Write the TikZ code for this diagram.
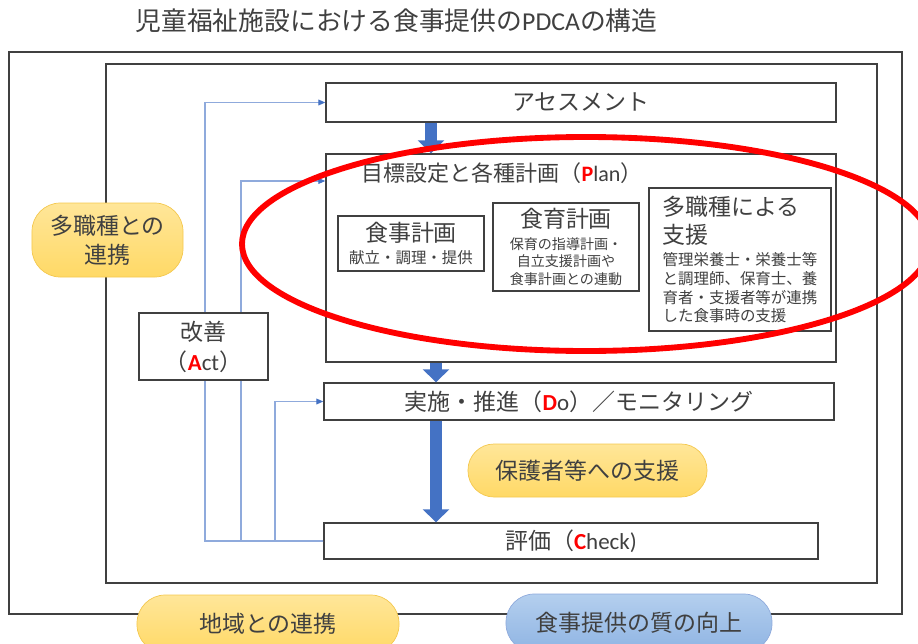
\documentclass[tikz,border=0pt]{standalone}
\usepackage{fontspec}
\setmainfont{Noto Sans CJK JP}
\newfontfamily\latfont{Carlito}
\usepackage{xcolor}
\usetikzlibrary{arrows.meta, positioning, shapes.geometric, calc}
\definecolor{framegray}{HTML}{404040}
\definecolor{pdcared}{HTML}{FF0000}
\definecolor{arrowblue}{HTML}{4472C4}
\definecolor{lineblue}{HTML}{8FAADC}
\definecolor{pillytop}{HTML}{FFE699}
\definecolor{pillybot}{HTML}{FFD966}
\definecolor{pillyline}{HTML}{F4C84F}
\definecolor{pillbtop}{HTML}{B4CFEE}
\definecolor{pillbbot}{HTML}{8FB4E3}
\definecolor{pillbline}{HTML}{8FAADC}
\newcommand{\latn}[1]{{\latfont #1}}
\newcommand{\ini}[1]{{\latfont\bfseries\color{pdcared}#1}}
\newcommand{\bigjp}{\fontsize{19.6}{24}\selectfont}

\begin{document}
\begin{tikzpicture}[x=0.03cm, y=-0.03cm,
    every node/.style={text=framegray},
    box/.style={draw=framegray, line width=1.2pt, fill=white, inner sep=0pt, align=center},
    pill/.style={draw=pillyline, line width=0.6pt, top color=pillytop, bottom color=pillybot, inner sep=0pt, align=center},
    bluepill/.style={pill, draw=pillbline, top color=pillbtop, bottom color=pillbbot},
    frame/.style={draw=framegray, line width=1.3pt},
    bigarrow/.style={draw=arrowblue, line width=10pt, -{Triangle[length=11pt,width=22pt]}},
    fb/.style={draw=lineblue, line width=0.9pt, -{Triangle[length=6pt,width=5pt,color=arrowblue]}},
    ring/.style={draw=pdcared, line width=5pt}]
  \useasboundingbox (0,0) rectangle (918,644);
  \clip (0,0) rectangle (918,644);

  \node[font=\fontsize{22}{26}\selectfont] (title) at (396.5,21) {児童福祉施設における食事提供の\latn{PDCA}の構造};

  % frames
  \draw[frame] (9,52) rectangle (902,614);
  \draw[frame] (106,64) rectangle (877,583);

  % PDCA boxes
  \node[box, minimum width=15.3cm, minimum height=1.17cm, font=\bigjp] (assess) at (581,102.5) {アセスメント};
  \node[box, minimum width=15.3cm, minimum height=6.24cm] (plan) at (581,258) {};
  \node[font=\fontsize{18.8}{22}\selectfont] (plantitle) at (502,173) {目標設定と各種計画（\ini{P}\latn{lan}）};
  \node[box, minimum width=4.38cm, minimum height=1.65cm, font=\fontsize{13.2}{16}\selectfont] (meal) at (411,243.5)
    {\bigjp 食事計画\\[3.4pt]献立・調理・提供};
  \node[box, minimum width=4.38cm, minimum height=2.64cm, font=\fontsize{12}{15}\selectfont] (edu) at (566,247)
    {\bigjp 食育計画\\[3pt]保育の指導計画・\\自立支援計画や\\食事計画との連動};
  \node[box, minimum width=5.46cm, minimum height=4.29cm, align=left, font=\fontsize{13.2}{16.2}\selectfont] (multi) at (740,259.5)
    {\fontsize{19.6}{23.9}\selectfont 多職種による\\[5pt]\fontsize{19.6}{23.9}\selectfont 支援\\[2.4pt]管理栄養士・栄養士等\\と調理師、保育士、養\\育者・支援者等が連携\\した食事時の支援};
  \node[box, minimum width=15.3cm, minimum height=1.11cm, font=\bigjp] (do) at (579,401.5) {実施・推進（\ini{D}\latn{o}）／モニタリング};
  \node[box, minimum width=14.82cm, minimum height=1.08cm, font=\bigjp] (check) at (571,541) {評価（\ini{C}\latn{heck)}};

  % main flow
  \coordinate (spineA) at (431,0);
  \coordinate (spineB) at (436,0);
  \draw[bigarrow] (spineA |- assess.south) -- (spineA |- plan.north);
  \draw[bigarrow] (spineB |- plan.south) -- (spineB |- do.north);
  \draw[bigarrow] (spineB |- do.south) -- (spineB |- check.north);

  % feedback lines
  \coordinate (fbA) at (205,0);
  \coordinate (fbB) at (241,181);
  \coordinate (fbC) at (275,0);
  \draw[fb] (check.west) -| (fbA |- assess.west) -- (assess.west);
  \draw[fb] (check.west) -| (fbB) -- (fbB -| plan.west);
  \draw[fb] (check.west) -| (fbC |- do.west) -- (do.west);

  \node[box, minimum width=3.87cm, minimum height=2.01cm, font=\fontsize{19.6}{25.6}\selectfont] (act) at (203.5,346.5) {改善\\（\ini{A}\latn{ct}）};

  % pills
  \node[pill, minimum width=4.53cm, minimum height=2.22cm, rounded corners=0.85cm, font=\fontsize{19.6}{24.7}\selectfont] (teamwork) at (107.5,240) {多職種との\\連携};
  \node[pill, minimum width=7.17cm, minimum height=1.59cm, rounded corners=0.78cm, font=\bigjp] (parents) at (587.5,470.5) {保護者等への支援};
  \node[pill, minimum width=7.86cm, minimum height=1.74cm, rounded corners=0.85cm, font=\bigjp] (region) at (268,624) {地域との連携};
  \node[bluepill, minimum width=7.98cm, minimum height=1.74cm, rounded corners=0.85cm, font=\bigjp] (quality) at (639,623) {食事提供の質の向上};

  % highlight
  \draw[ring] (586,244) ellipse [x radius=344, y radius=107];
\end{tikzpicture}
\end{document}
